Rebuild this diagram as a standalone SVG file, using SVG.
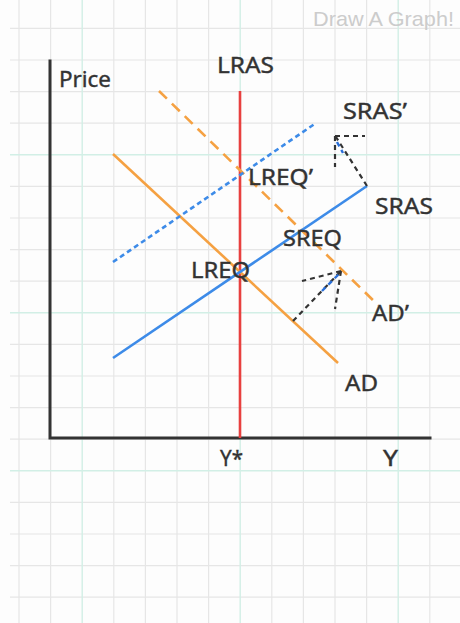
<svg xmlns="http://www.w3.org/2000/svg" width="460" height="623" viewBox="0 0 460 623">
<style>
.g{stroke:#e6e6e6;stroke-width:1.2}
.t{stroke:#d2efe6;stroke-width:1.4}
.lbl{font-family:"Noto Sans","DejaVu Sans",sans-serif;font-size:22px;fill:#333;stroke:#333;stroke-width:0.4}
.ax{stroke:#333;stroke-width:3;fill:none;stroke-linecap:square}
.orange{stroke:#f5a142;stroke-width:2.6;fill:none}
.blue{stroke:#3d8be8;stroke-width:2.6;fill:none}
.arr{stroke:#333;stroke-width:2.2;fill:none;stroke-dasharray:5 4}
.arrb{stroke:#2a6fd8;stroke-width:2.4;fill:none;stroke-dasharray:5 4}
</style>
<rect width="460" height="623" fill="#fdfdfd"/>
<g id="grid">
<g class="g">
<line x1="19" y1="0" x2="19" y2="623"/><line x1="50.6" y1="0" x2="50.6" y2="623"/>
<line x1="113.8" y1="0" x2="113.8" y2="623"/><line x1="145.4" y1="0" x2="145.4" y2="623"/>
<line x1="177" y1="0" x2="177" y2="623"/><line x1="208.6" y1="0" x2="208.6" y2="623"/>
<line x1="271.8" y1="0" x2="271.8" y2="623"/><line x1="303.4" y1="0" x2="303.4" y2="623"/>
<line x1="335" y1="0" x2="335" y2="623"/><line x1="366.6" y1="0" x2="366.6" y2="623"/>
<line x1="429.8" y1="0" x2="429.8" y2="623"/>
<line x1="10" y1="28.4" x2="460" y2="28.4"/><line x1="10" y1="60" x2="460" y2="60"/>
<line x1="10" y1="91.6" x2="460" y2="91.6"/><line x1="10" y1="123.2" x2="460" y2="123.2"/>
<line x1="10" y1="186.4" x2="460" y2="186.4"/><line x1="10" y1="218" x2="460" y2="218"/>
<line x1="10" y1="249.6" x2="460" y2="249.6"/><line x1="10" y1="281.2" x2="460" y2="281.2"/>
<line x1="10" y1="344.4" x2="460" y2="344.4"/><line x1="10" y1="376" x2="460" y2="376"/>
<line x1="10" y1="407.6" x2="460" y2="407.6"/><line x1="10" y1="439.2" x2="460" y2="439.2"/>
<line x1="10" y1="502.4" x2="460" y2="502.4"/><line x1="10" y1="534" x2="460" y2="534"/>
<line x1="10" y1="565.6" x2="460" y2="565.6"/><line x1="10" y1="597.2" x2="460" y2="597.2"/>
</g>
<g class="t">
<line x1="82.2" y1="0" x2="82.2" y2="623"/><line x1="240.2" y1="0" x2="240.2" y2="623"/>
<line x1="398.2" y1="0" x2="398.2" y2="623"/>
<line x1="10" y1="154.8" x2="460" y2="154.8"/><line x1="10" y1="312.8" x2="460" y2="312.8"/>
<line x1="10" y1="470.8" x2="460" y2="470.8"/>
</g>
</g>
<text x="313" y="26" font-family="Liberation Sans, Arial, sans-serif" font-size="21" fill="#cccccc" textLength="141" lengthAdjust="spacingAndGlyphs">Draw A Graph!</text>
<g id="axes">
<polyline class="ax" points="50,61 50,438 430,438"/>
<text class="lbl" x="59" y="87" textLength="52" lengthAdjust="spacingAndGlyphs">Price</text>
<text class="lbl" x="220" y="466" textLength="23" lengthAdjust="spacingAndGlyphs">Y*</text>
<text class="lbl" x="383" y="466" textLength="15" lengthAdjust="spacingAndGlyphs">Y</text>
</g>
<g id="lras">
<line x1="240" y1="91" x2="240" y2="438" stroke="#e8403f" stroke-width="2.6"/>
<text class="lbl" x="217" y="73" textLength="57" lengthAdjust="spacingAndGlyphs">LRAS</text>
</g>
<g id="ad">
<line class="orange" x1="113" y1="154" x2="338" y2="363"/>
<text class="lbl" x="345" y="391" textLength="33" lengthAdjust="spacingAndGlyphs">AD</text>
</g>
<g id="ad-prime">
<line class="orange" x1="159" y1="91" x2="378" y2="305" stroke-dasharray="11 7"/>
<text class="lbl" x="372" y="321" textLength="37" lengthAdjust="spacingAndGlyphs">AD’</text>
</g>
<g id="sras">
<line class="blue" x1="113" y1="358" x2="367" y2="186"/>
<text class="lbl" x="375" y="214" textLength="58" lengthAdjust="spacingAndGlyphs">SRAS</text>
</g>
<g id="sras-prime">
<line class="blue" x1="113" y1="262" x2="316" y2="123" stroke-dasharray="5 3.5"/>
<text class="lbl" x="343" y="119" textLength="64" lengthAdjust="spacingAndGlyphs">SRAS’</text>
</g>
<g id="lreq"><text class="lbl" x="191" y="278" textLength="59" lengthAdjust="spacingAndGlyphs">LREQ</text></g>
<g id="lreq-prime"><text class="lbl" x="248" y="185" textLength="65" lengthAdjust="spacingAndGlyphs">LREQ’</text></g>
<g id="sreq"><text class="lbl" x="283" y="246" textLength="59" lengthAdjust="spacingAndGlyphs">SREQ</text></g>
<g id="connectors">
<g id="sras-shift">
<line class="arr" x1="367" y1="186" x2="336" y2="137"/>
<line class="arrb" x1="337" y1="142" x2="343" y2="153" stroke-dasharray="4 3"/>
<line class="arr" x1="335" y1="136" x2="365" y2="136"/>
<line class="arr" x1="335" y1="136" x2="335" y2="167"/>
</g>
<g id="ad-shift">
<line class="arr" x1="293" y1="321" x2="341" y2="271"/>
<line class="arrb" x1="322" y1="291" x2="339" y2="274" stroke-dasharray="4 3"/>
<line class="arr" x1="341" y1="271" x2="302" y2="281"/>
<line class="arr" x1="341" y1="271" x2="335" y2="309"/>
</g>
</g>
</svg>
